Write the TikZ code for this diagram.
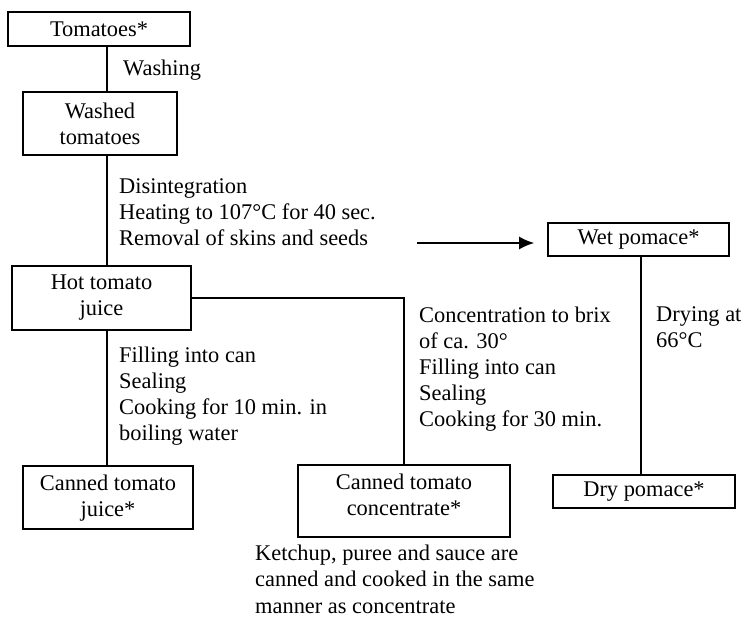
\documentclass[tikz,border=0pt]{standalone}
\usepackage{fontspec}
\setmainfont{Liberation Serif}
\usetikzlibrary{arrows.meta}
\begin{document}
\begin{tikzpicture}[x=1pt,y=-1pt,
  every node/.style={font=\fontsize{22.4}{26}\selectfont, inner sep=0pt},
  box/.style={draw, line width=1.7pt, align=center},
  lbl/.style={anchor=base west, align=left},
  link/.style={line width=1.7pt}]
\useasboundingbox (0,0) rectangle (744,617);

% process boxes
\node[box, minimum width=182pt, minimum height=34pt] (tom) at (99,29) {Tomatoes*};
\node[box, minimum width=154pt, minimum height=63pt] (wash) at (100,123.5) {Washed\\tomatoes};
\node[box, minimum width=179pt, minimum height=64pt] (hot) at (101.5,298) {Hot tomato\\juice};
\node[box, minimum width=170pt, minimum height=63pt, text depth=3pt] (cjuice) at (108,497.5) {Canned tomato\\juice*};
\node[box, minimum width=212pt, minimum height=72pt, text depth=12pt] (cconc) at (404,501) {Canned tomato\\concentrate*};
\node[box, minimum width=181pt, minimum height=33pt] (wet) at (638.5,239.5) {Wet pomace*};
\node[box, minimum width=182pt, minimum height=33pt] (dry) at (644,491.5) {Dry pomace*};

% step descriptions (anchored at the baseline of their last line)
\node[lbl] (washing) at (123,76) {Washing};
\node[lbl] (disint) at (119,246) {Disintegration\\Heating to 107°C for 40 sec.\\Removal of skins and seeds};
\node[lbl] (filling) at (119,440) {Filling into can\\Sealing\\Cooking for 10 min. in\\boiling water};
\node[lbl] (concen) at (419,426) {Concentration to brix\\of ca. 30°\\Filling into can\\Sealing\\Cooking for 30 min.};
\node[lbl] (drying) at (656,348) {Drying at\\66°C};
\node[lbl, font=\fontsize{22.4}{26.5}\selectfont] (note) at (255,613) {Ketchup, puree and sauce are\\canned and cooked in the same\\manner as concentrate};

% connectors
\coordinate (spine) at (107,0);
\coordinate (dspine) at (641,0);
\coordinate (arrstart) at (417,243);
\draw[link] (tom.south -| spine) -- (wash.north -| spine);
\draw[link] (wash.south -| spine) -- (hot.north -| spine);
\draw[link] (hot.south -| spine) -- (cjuice.north -| spine);
\draw[link] (hot.east) -| (cconc.north);
\draw[link, -{Latex[length=15pt,width=13pt]}, shorten >=13pt] (arrstart) -- (arrstart -| wet.west);
\draw[link] (wet.south -| dspine) -- (dry.north -| dspine);
\end{tikzpicture}
\end{document}
